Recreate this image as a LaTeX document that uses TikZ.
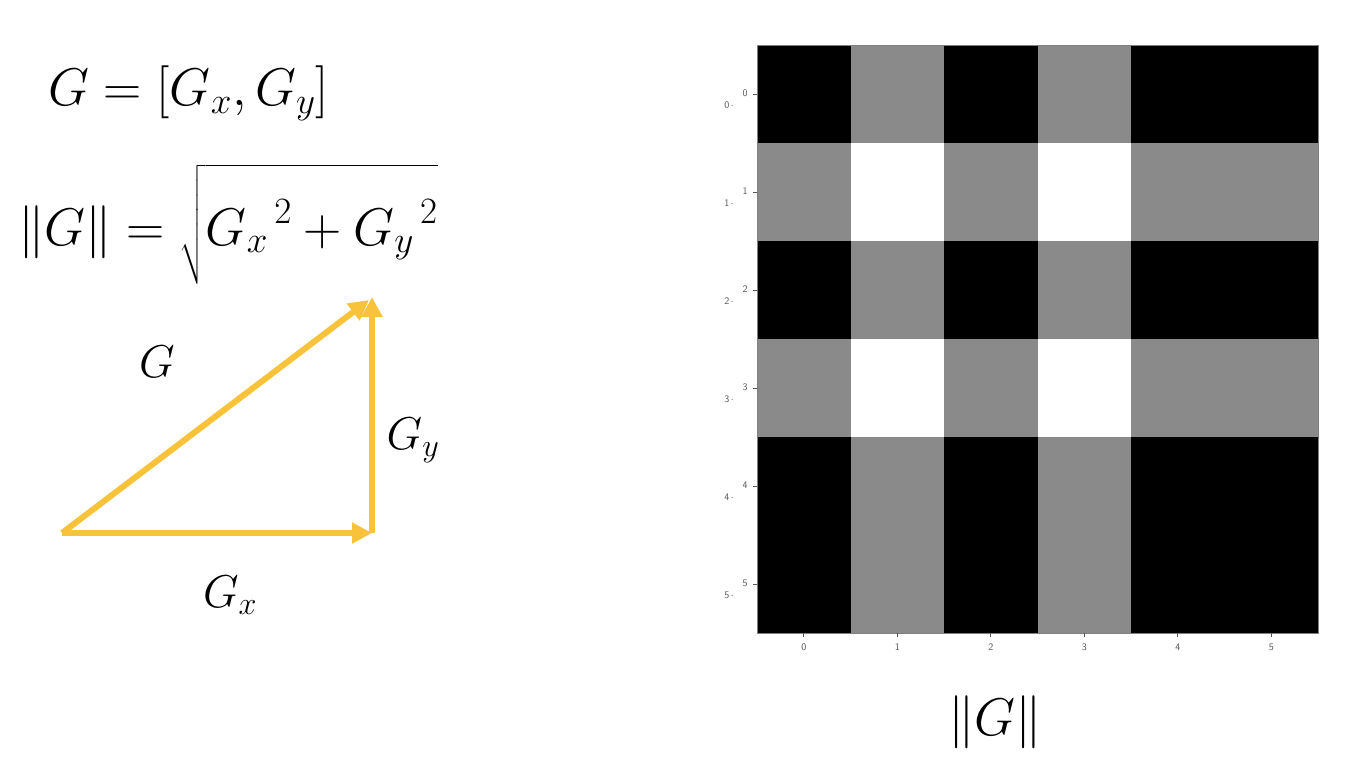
\RequirePackage{fix-cm}
\documentclass[tikz,border=0pt]{standalone}
\usepackage{amsmath}
\usepackage{fontspec}
\usetikzlibrary{arrows.meta,calc}
\definecolor{vecyellow}{HTML}{F8C33A}
\definecolor{pxB}{HTML}{000000}
\definecolor{pxG}{HTML}{8A8A8A}
\definecolor{pxW}{HTML}{FFFFFF}
\definecolor{ticktext}{HTML}{555555}
\tikzset{
  vec/.style={draw=vecyellow, line width=6pt, -{Triangle[length=20pt,width=20pt]}},
  bigmath/.style={inner sep=0pt, font=\fontsize{53}{62}\selectfont},
  labmath/.style={inner sep=0pt, font=\fontsize{46}{54}\selectfont},
  ticklab/.style={inner sep=0pt, text=ticktext, font=\sffamily\fontsize{10}{11}\selectfont},
  tickmark/.style={draw=ticktext, line width=0.6pt}
}
\begin{document}
\begin{tikzpicture}[x=1pt,y=-1pt]
\useasboundingbox (0,0) rectangle (1369,768);
\fill[white] (0,0) rectangle (1369,768);
% formulas
\node[bigmath, anchor=base west] (eqone) at (48,106) {$G = [G_x, G_y]$};
\node[bigmath, anchor=base west] (eqtwo) at (18,245) {$\|G\| = \sqrt{\rule[-33pt]{0pt}{104pt}{G_x}^{\,2} + {G_y}^{\,2}}$};
% triangle
\coordinate (O) at (62,533);
\coordinate (A) at (372,533);
\coordinate (B) at (372,297);
\draw[vec] (O) -- (A);
\draw[vec] (A) -- (B);
\draw[vec] (O) -- ($(B)+(-3,3)$);
\node[labmath] (lG) at (157,362) {$G$};
\node[labmath] (lGy) at (413,440) {$G_y$};
\node[labmath] (lGx) at (230,595) {$G_x$};
% image
\foreach \r/\ca/\cb/\cc/\cd/\ce/\cf in {
  0/pxB/pxG/pxB/pxG/pxB/pxB,
  1/pxG/pxW/pxG/pxW/pxG/pxG,
  2/pxB/pxG/pxB/pxG/pxB/pxB,
  3/pxG/pxW/pxG/pxW/pxG/pxG,
  4/pxB/pxG/pxB/pxG/pxB/pxB,
  5/pxB/pxG/pxB/pxG/pxB/pxB}{
  \foreach \cl [count=\i from 0] in {\ca,\cb,\cc,\cd,\ce,\cf}
    \fill[\cl] ({757+\i*93.5},{45+\r*98}) rectangle ++(93.5,98);
}
\draw[gray, line width=0.8pt] (757,45) rectangle (1318,633);
\foreach \i in {0,...,5}{
  \draw[tickmark] ({803.75+\i*93.5},633) -- ++(0,4);
  \node[ticklab] (xt\i) at ({803.75+\i*93.5},647) {\i};
  \draw[tickmark] (757,{94+\i*98}) -- ++(-4,0);
  \node[ticklab] (yt\i) at (745,{93+\i*98}) {\i};
  \node[ticklab] (yo\i) at (729,{105+\i*98}) {\i\,$\cdot$};
}
\node[bigmath] (norm) at (995,722) {$\|G\|$};
\end{tikzpicture}
\end{document}
